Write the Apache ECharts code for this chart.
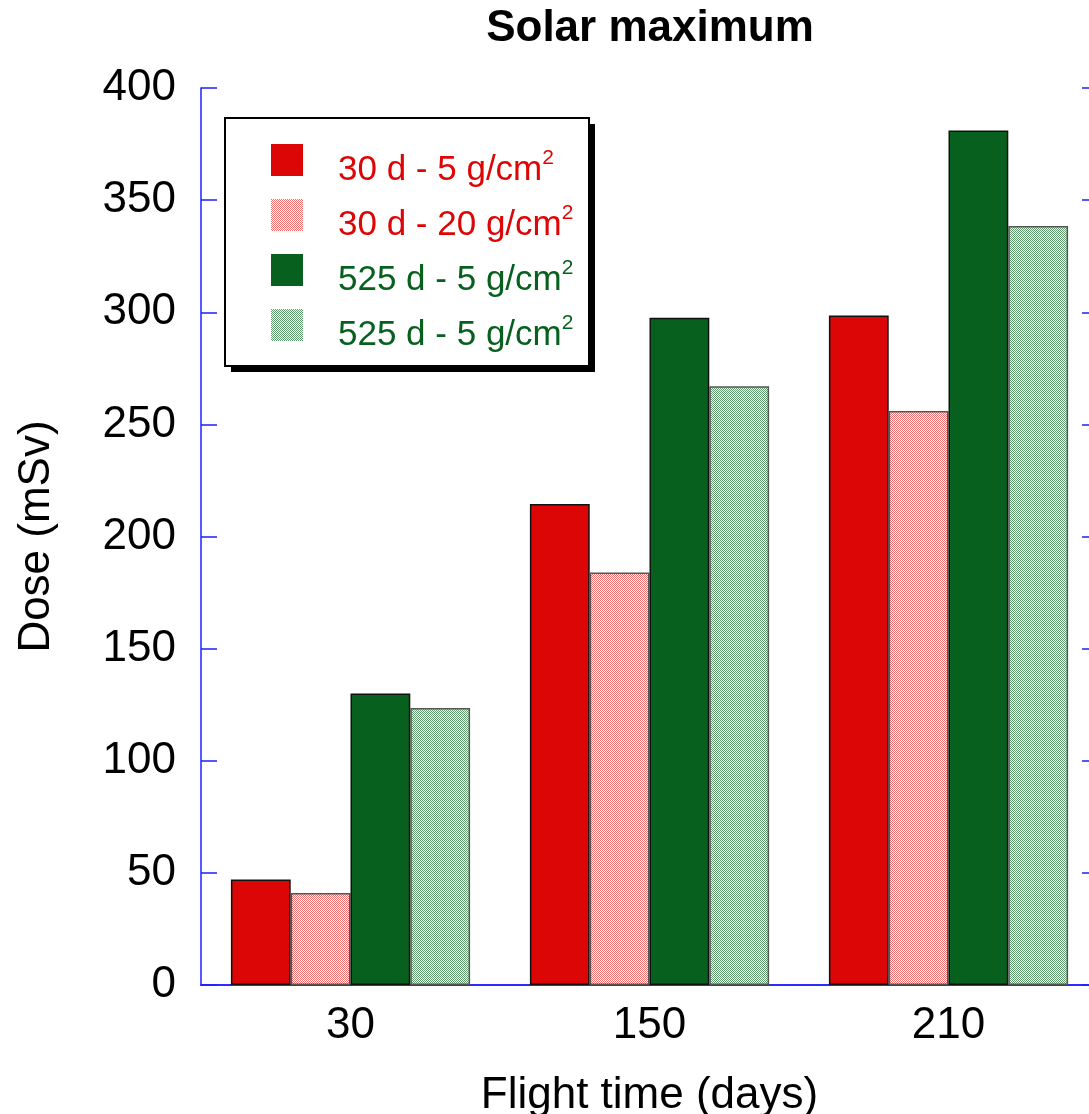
<!DOCTYPE html>
<html>
<head>
<meta charset="utf-8">
<script src="https://cdn.jsdelivr.net/npm/echarts@6/dist/echarts.min.js"></script>
<style>
html,body{margin:0;padding:0;background:#fff;}
#main{width:1089px;height:1114px;}
</style>
</head>
<body>
<div id="main"></div>
<script>
// ---- data ----
var categories = ['30', '150', '210'];
var seriesKeys = ['A', 'B', 'C', 'D'];
var legendLabels = ['30 d - 5 g/cm', '30 d - 20 g/cm', '525 d - 5 g/cm', '525 d - 5 g/cm'];
var dose30d5 = [47, 214.5, 298.5];
var dose30d20 = [41, 184, 256];
var dose525d5 = [130, 297.5, 381];
var dose525d5b = [123.5, 267, 338.5];
var yTicks = { min: 0, max: 400, interval: 50 };

// ---- styling ----
var RED = '#dd0606';
var GREEN = '#07601d';
var AXIS_BLUE = '#1f1fff';
var FONT = 'Liberation Sans, Arial, sans-serif';

function checker(color) {
  var c = document.createElement('canvas');
  c.width = 2; c.height = 2;
  var ctx = c.getContext('2d');
  ctx.fillStyle = '#ffffff';
  ctx.fillRect(0, 0, 2, 2);
  ctx.fillStyle = color;
  ctx.fillRect(0, 0, 1, 1);
  ctx.fillRect(1, 1, 1, 1);
  return { image: c, repeat: 'repeat' };
}

var fills = [RED, checker('#f07070'), GREEN, checker('#5c9a6c')];
var borders = ['#111', '#555', '#111', '#555'];
var values = [dose30d5, dose30d20, dose525d5, dose525d5b];

var chart = echarts.init(document.getElementById('main'), null, { renderer: 'canvas' });

var series = seriesKeys.map(function (k, i) {
  return {
    name: k,
    type: 'bar',
    data: values[i],
    barGap: '0%',
    barCategoryGap: '20%',
    itemStyle: { color: fills[i], borderColor: borders[i], borderWidth: 1.5 }
  };
});

var option = {
  animation: false,
  backgroundColor: '#ffffff',
  title: {
    text: 'Solar maximum',
    left: 645,
    top: 2,
    textAlign: 'center',
    textStyle: { fontFamily: FONT, fontWeight: 'bold', fontSize: 44, color: '#000' }
  },
  graphic: [
    { type: 'rect', z: 1, shape: { x: 231, y: 124, width: 364, height: 248 }, style: { fill: '#000' } },
    { type: 'rect', z: 1, shape: { x: 225, y: 118, width: 364, height: 248 }, style: { fill: '#fff', stroke: '#000', lineWidth: 2 } }
  ],
  legend: {
    orient: 'vertical',
    left: 224,
    top: 117,
    padding: [27, 17, 14, 47],
    itemWidth: 32,
    itemHeight: 53,
    itemGap: 2,
    z: 5,
    icon: 'path://M0,0L32,0L32,32L0,32ZM0,53L0.01,53L0,53Z',
    itemStyle: { borderWidth: 0 },
    data: seriesKeys,
    formatter: function (name) {
      var i = seriesKeys.indexOf(name);
      var tag = i < 2 ? 'r' : 'g';
      return '{' + tag + '|' + legendLabels[i] + '}{' + tag + 's|2}';
    },
    textStyle: {
      fontFamily: FONT,
      padding: [0, 0, 0, 30],
      rich: {
        r: { fontFamily: FONT, fontSize: 35, color: RED, lineHeight: 46 },
        rs: { fontFamily: FONT, fontSize: 21, color: RED, verticalAlign: 'top', lineHeight: 16 },
        g: { fontFamily: FONT, fontSize: 35, color: GREEN, lineHeight: 46 },
        gs: { fontFamily: FONT, fontSize: 21, color: GREEN, verticalAlign: 'top', lineHeight: 16 }
      }
    }
  },
  grid: { left: 201, right: -9, top: 88, bottom: 129, containLabel: false, outerBoundsMode: 'none' },
  xAxis: [
    {
      type: 'category',
      data: categories,
      position: 'bottom',
      name: 'Flight time (days)',
      nameLocation: 'middle',
      nameGap: 89,
      nameTextStyle: { fontFamily: FONT, fontSize: 44, color: '#000' },
      axisLine: { lineStyle: { color: AXIS_BLUE, width: 1.5 } },
      axisTick: { inside: true, length: 16, lineStyle: { color: AXIS_BLUE, width: 1.5 } },
      axisLabel: { fontFamily: FONT, fontSize: 44, color: '#000', margin: 19 }
    },
    {
      type: 'category',
      data: categories,
      position: 'top',
      axisLine: { lineStyle: { color: AXIS_BLUE, width: 1.5 } },
      axisTick: { inside: true, length: 16, lineStyle: { color: AXIS_BLUE, width: 1.5 } },
      axisLabel: { show: false }
    }
  ],
  yAxis: [
    {
      type: 'value',
      min: yTicks.min,
      max: yTicks.max,
      interval: yTicks.interval,
      position: 'left',
      name: 'Dose (mSv)',
      nameLocation: 'middle',
      nameGap: 142,
      nameTextStyle: { fontFamily: FONT, fontSize: 44, color: '#000' },
      axisLine: { show: true, lineStyle: { color: AXIS_BLUE, width: 1.5 } },
      axisTick: { show: true, inside: true, length: 16, lineStyle: { color: AXIS_BLUE, width: 1.5 } },
      axisLabel: { fontFamily: FONT, fontSize: 44, color: '#000', margin: 25 },
      splitLine: { show: false }
    },
    {
      type: 'value',
      min: yTicks.min,
      max: yTicks.max,
      interval: yTicks.interval,
      position: 'right',
      axisLine: { show: true, lineStyle: { color: AXIS_BLUE, width: 1.5 } },
      axisTick: { show: true, inside: true, length: 16, lineStyle: { color: AXIS_BLUE, width: 1.5 } },
      axisLabel: { show: false },
      splitLine: { show: false }
    }
  ],
  series: series
};

chart.setOption(option);
</script>
</body>
</html>
